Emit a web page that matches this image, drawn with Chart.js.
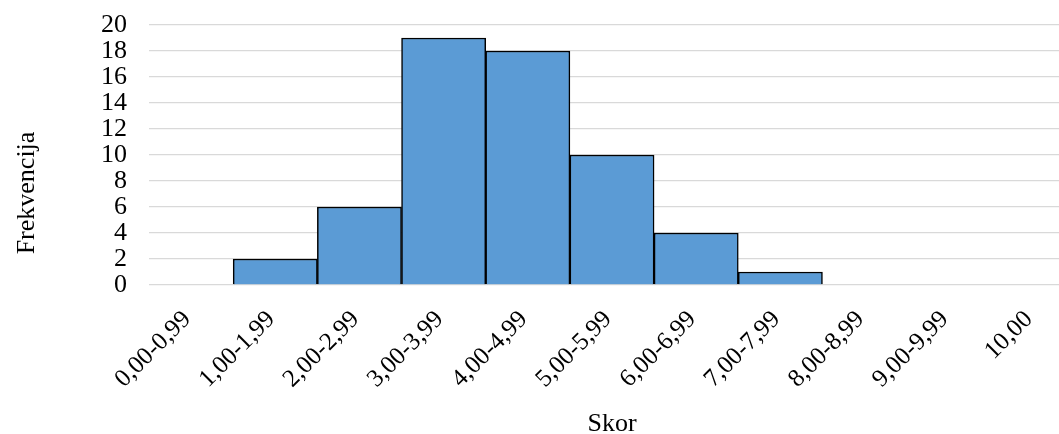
<!DOCTYPE html>
<html>
<head>
<meta charset="utf-8">
<script src="https://cdn.jsdelivr.net/npm/chart.js@4/dist/chart.umd.min.js"></script>
<style>
html,body{margin:0;padding:0;overflow:hidden;background:#fff;width:1059px;height:434px;}
#wrap{width:1080px;height:434px;}
</style>
</head>
<body>
<div id="wrap"><canvas id="c" width="1080" height="434"></canvas></div>
<script>
const categories = ["0,00-0,99","1,00-1,99","2,00-2,99","3,00-3,99","4,00-4,99","5,00-5,99","6,00-6,99","7,00-7,99","8,00-8,99","9,00-9,99","10,00"];
const frequencies = [0,2,6,19,18,10,4,1,0,0,0];
const yTitle = "Frekvencija";
const xTitle = "Skor";

const FONT = "'Liberation Serif','Times New Roman',serif";

const yTitlePlugin = {
  id: 'yTitle',
  afterDraw(chart) {
    const ctx = chart.ctx;
    ctx.save();
    ctx.translate(27, 193);
    ctx.rotate(-Math.PI/2);
    ctx.font = "26px " + FONT;
    ctx.fillStyle = "#000";
    ctx.textAlign = "center";
    ctx.textBaseline = "middle";
    ctx.fillText(yTitle, 0, 0);
    ctx.restore();
  }
};

new Chart(document.getElementById('c'), {
  type: 'bar',
  data: {
    labels: categories,
    datasets: [{
      data: frequencies,
      backgroundColor: '#5B9BD5',
      borderColor: '#000',
      borderWidth: 1.5,
      barPercentage: 1,
      categoryPercentage: 1
    }]
  },
  options: {
    responsive: false,
    animation: false,
    devicePixelRatio: 1,
    layout: { padding: { top: 25, left: 0, right: 5, bottom: 0 } },
    plugins: { legend: { display: false }, tooltip: { enabled: false } },
    scales: {
      x: {
        grid: { display: false, drawTicks: false },
        border: { display: false },
        ticks: { minRotation: 45, maxRotation: 45, autoSkip: false, padding: 20, labelOffset: -4, color: '#000', font: { family: FONT, size: 25 } },
        title: { display: true, text: xTitle, color: '#000', font: { family: FONT, size: 26, lineHeight: 1 }, padding: { top: 0, bottom: -3 } },
        afterFit(s) { s.height = 149; s.paddingLeft = 0; s.paddingRight = 0; }
      },
      y: {
        min: 0, max: 20,
        ticks: { stepSize: 2, autoSkip: false, padding: 22, color: '#000', font: { family: FONT, size: 26, lineHeight: 1 } },
        grid: { color: '#D9D9D9', lineWidth: 1.3, drawTicks: false },
        border: { display: false },
        afterFit(s) { s.width = 149; s.paddingTop = 0; s.paddingBottom = 0; }
      }
    }
  },
  plugins: [yTitlePlugin]
});
</script>
</body>
</html>
